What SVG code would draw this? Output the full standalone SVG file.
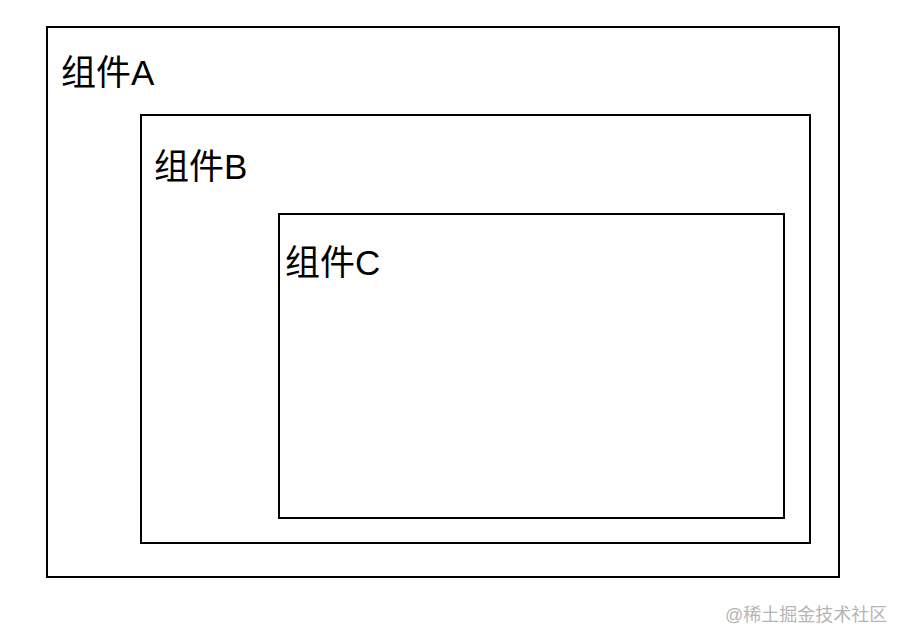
<svg xmlns="http://www.w3.org/2000/svg" width="906" height="644" viewBox="0 0 906 644">
<style>
.box{fill:#fff;stroke:#000;stroke-width:2}
.lbl{font-family:"Liberation Sans","Noto Sans CJK SC",sans-serif;font-size:35px;fill:#000}
.wm{font-family:"Liberation Sans","Noto Sans CJK SC",sans-serif;font-size:18px;fill:#b5b5b5}
</style>
<rect width="906" height="644" fill="#fff"/>
<g id="nodeA">
<rect class="box" x="47" y="27" width="792" height="550"/>
<text class="lbl" x="61" y="85">组件A</text>
</g>
<g id="nodeB">
<rect class="box" x="141" y="115" width="669" height="428"/>
<text class="lbl" x="154" y="179">组件B</text>
</g>
<g id="nodeC">
<rect class="box" x="279" y="214" width="505" height="304"/>
<text class="lbl" x="285" y="275">组件C</text>
</g>
<g id="connectors"></g>
<text class="wm" x="725" y="621">@稀土掘金技术社区</text>
</svg>
